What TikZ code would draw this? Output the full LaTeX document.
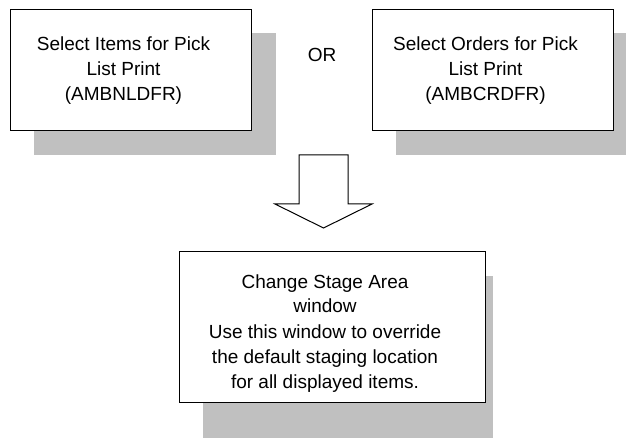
\documentclass[tikz,border=0pt]{standalone}
\usepackage{fontspec}
\setmainfont{Liberation Sans}
\usepackage{xcolor}
\usetikzlibrary{positioning,calc,backgrounds}
\definecolor{shadowgray}{RGB}{192,192,192}
\newcommand{\boxlines}[1]{\begin{tabular}{@{}c@{}}#1\end{tabular}\kern14pt}

\begin{document}
\begin{tikzpicture}[x=1pt, y=-1pt,
    box/.style={draw, rectangle, fill=white, line width=1pt,
        font=\fontsize{19}{25}\selectfont},
    label/.style={font=\fontsize{19}{25}\selectfont}]
    % Frame
    \useasboundingbox (0,0) rectangle (626,438);
    \clip (0,0) rectangle (626,438);

    % Selection screens
    \node[box, minimum width=241pt, minimum height=121pt] (items) at (130.5,70.5) {\boxlines{Select Items for Pick\\List Print\\(AMBNLDFR)}};
    \node[box, minimum width=241pt, minimum height=121pt] (orders) at (492.5,70.5) {\boxlines{Select Orders for Pick\\List Print\\(AMBCRDFR)}};
    \node[label] (or) at (322,55) {OR};

    % Result window
    \node[box, minimum width=306pt, minimum height=150pt] (stage) at (332,327) {\boxlines{\rule{0pt}{29.5pt}Change Stage Area\\window\\Use this window to override\\the default staging location\\for all displayed items.}};

    % Shadows
    \begin{scope}[on background layer]
        \fill[shadowgray] ($(items.north west)+(24,24)$) rectangle ($(items.south east)+(24,24)$);
        \fill[shadowgray] ($(orders.north west)+(24,24)$) rectangle ($(orders.south east)+(24,24)$);
        \fill[shadowgray] ($(stage.north west)+(24,24)$) rectangle ($(stage.south east)+(7,40)$);
    \end{scope}

    % Block arrow
    \coordinate (arrowtop) at (323.5,155);
    \draw[line width=1pt, line join=miter] ($(arrowtop)+(-24.5,0)$) -- ($(arrowtop)+(24.5,0)$) -- ($(arrowtop)+(24.5,49)$)
        -- ($(arrowtop)+(48.5,49)$) -- ($(arrowtop)+(0,73)$) -- ($(arrowtop)+(-48.5,49)$)
        -- ($(arrowtop)+(-24.5,49)$) -- cycle;
\end{tikzpicture}
\end{document}
